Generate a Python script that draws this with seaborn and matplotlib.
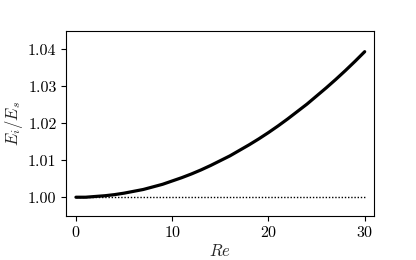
import numpy as np
import pandas as pd
import seaborn as sns
import matplotlib.pyplot as plt

# values, one per integer Re
re_vals = list(range(0, 31))
energy_ratio = [1.0000, 1.0000, 1.0002, 1.0004, 1.0007, 1.0011, 1.0016, 1.0021,
                1.0028, 1.0035, 1.0044, 1.0053, 1.0063, 1.0074, 1.0086, 1.0099,
                1.0112, 1.0127, 1.0142, 1.0158, 1.0175, 1.0193, 1.0212, 1.0232,
                1.0252, 1.0274, 1.0296, 1.0319, 1.0343, 1.0368, 1.0394]
baseline_re = [0, 30]
baseline_val = [1.0, 1.0]

sns.set_style("ticks")
plt.rcParams['font.family'] = ['cmr10', 'DejaVu Serif']
plt.rcParams['mathtext.fontset'] = 'cm'
plt.rcParams['axes.formatter.use_mathtext'] = True
plt.rcParams['axes.unicode_minus'] = False

df = pd.DataFrame({'Re': re_vals, 'ratio': energy_ratio})
base = pd.DataFrame({'Re': baseline_re, 'ratio': baseline_val})

fig = plt.figure(figsize=(4.16, 2.6), dpi=100)
ax = fig.add_axes([0.1594, 0.1704, 0.7404, 0.7104])

sns.lineplot(data=df, x='Re', y='ratio', color='black', linewidth=2.3, ax=ax)
sns.lineplot(data=base, x='Re', y='ratio', color='black', linewidth=1.0,
             linestyle=(0, (1, 1.3)), ax=ax)

ax.set_xlim(-1, 31)
ax.set_ylim(0.995, 1.045)
ax.set_xticks([0, 10, 20, 30])
ax.set_yticks([1.00, 1.01, 1.02, 1.03, 1.04])
ax.set_yticklabels(['1.00', '1.01', '1.02', '1.03', '1.04'])
ax.set_xlabel('$Re$', fontsize=12, labelpad=2)
ax.set_ylabel('$E_i/E_s$', fontsize=12, labelpad=2)
ax.tick_params(labelsize=11.5, colors='black', width=0.8, length=3.5)
ax.tick_params(axis='x', pad=3)
for s in ax.spines.values():
    s.set_color('black')
    s.set_linewidth(0.8)

fig.savefig('out.png', dpi=100)
